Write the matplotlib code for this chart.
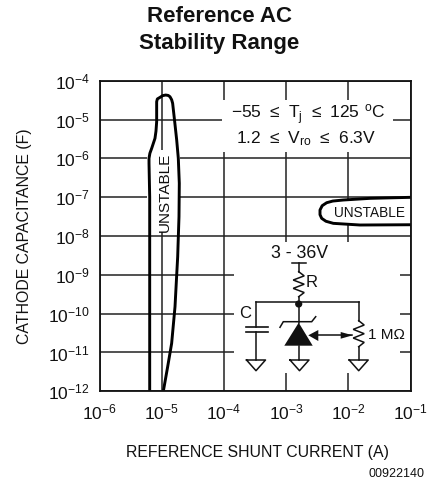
import numpy as np
import matplotlib
matplotlib.use("Agg")
import matplotlib.pyplot as plt
from matplotlib.patches import Rectangle, Polygon, Circle

# values as log10 of amps / farads
left_x = [-5.193, -5.193, -5.204, -5.204, -5.190, -5.161, -5.108, -5.092, -5.081, -5.081, -5.070, -5.027, -4.985,
          -4.936, -4.895, -4.867, -4.840, -4.824, -4.791, -4.759, -4.733, -4.717, -4.722, -4.738, -4.743,
          -4.759, -4.786, -4.840, -4.904, -4.974]
left_y = [-12.0, -7.0, -6.128, -6.0, -5.87, -5.742, -5.485, -5.3, -5.057, -4.542, -4.47, -4.429, -4.385,
          -4.369, -4.38, -4.413, -4.49, -4.583, -5.057, -5.528, -6.0, -6.643, -7.503, -8.276, -8.534,
          -9.005, -9.821, -10.764, -11.366, -12.0]
right_x = [-1.0, -1.651, -2.08, -2.25, -2.348, -2.42, -2.455, -2.455, -2.428, -2.36, -2.241, -1.812, -1.0]
right_y = [-7.004, -7.03, -7.073, -7.10, -7.143, -7.22, -7.331, -7.45, -7.545, -7.62, -7.674, -7.717, -7.71]

x_exp = [-6, -5, -4, -3, -2, -1]
y_exp = [-12, -11, -10, -9, -8, -7, -6, -5, -4]
x_labels = ["$\\mathregular{10^{%d}}$" % e for e in x_exp]
y_labels = ["$\\mathregular{10^{%d}}$" % e for e in y_exp]

plain = "Liberation Sans"
W, H = 436, 486

fig = plt.figure(figsize=(W / 100, H / 100), dpi=100)
ax = fig.add_axes([99.5 / W, 1 - 391.3 / H, 311 / W, 310.6 / H])
ax.set_xscale("log")
ax.set_yscale("log")
ax.set_xlim(1e-6, 1e-1)
ax.set_ylim(1e-12, 1e-4)
ax.minorticks_off()
ax.set_xticks([10.0 ** e for e in x_exp], x_labels, fontsize=12.5, family=plain)
ax.set_yticks([10.0 ** e for e in y_exp], y_labels, fontsize=12.5, family=plain)
ax.tick_params(length=0, pad=8, colors="#111111")
ax.tick_params(axis="y", pad=7)
ax.grid(True, color="#222222", lw=1.1)
ax.set_axisbelow(True)
for s in ax.spines.values():
    s.set_linewidth(1.3)
    s.set_color("#111111")
    s.set_zorder(6)


# gaps cut in the grid, (xmin, xmax, ymin, ymax) as exponents
def gap(x0, x1, y0, y1):
    ax.add_patch(Rectangle((10.0 ** x0, 10.0 ** y0), 10.0 ** x1 - 10.0 ** x0, 10.0 ** y1 - 10.0 ** y0,
                           fc="white", ec="none", zorder=2))


gap(-4.03, -1.28, -5.84, -4.5)
gap(-5.236, -4.706, -7.9, -5.786)
gap(-3.833, -1.169, -11.521, -8.147)

ax.fill(10.0 ** np.array(right_x), 10.0 ** np.array(right_y), color="white", zorder=3)
ax.plot(10.0 ** np.array(left_x), 10.0 ** np.array(left_y), color="black", lw=2.1, zorder=4,
        solid_capstyle="butt", solid_joinstyle="round")
ax.plot(10.0 ** np.array(right_x), 10.0 ** np.array(right_y), color="black", lw=2.1, zorder=4,
        solid_joinstyle="round")

# overlay in pixels for the text and the little circuit
ov = fig.add_axes([0, 0, 1, 1], facecolor="none")
ov.set_xlim(0, W)
ov.set_ylim(H, 0)
ov.axis("off")


def txt(x, y, s, size=11.4, **kw):
    kw.setdefault("family", plain)
    ov.text(x, y, s, fontsize=size, ha=kw.pop("ha", "center"), va=kw.pop("va", "center"), color="#111111", **kw)


def line(xs, ys, lw=1.1):
    ov.plot(xs, ys, color="#111111", lw=lw, solid_joinstyle="miter")


def ground(x):
    ov.plot([x - 9.5, x + 9.5, x, x - 9.5], [360, 360, 370.7, 360], color="#111111", lw=1.1)


def zigzag(x, y0, y1, w):
    n = 6
    ys = [y0 + (y1 - y0) * i / n for i in range(n + 1)]
    xs = [x] + [x + (w if i % 2 else -w) for i in range(1, n)] + [x]
    line(xs, ys)


txt(219, 16, "Reference AC", size=16, weight="bold")
txt(219, 43, "Stability Range", size=16, weight="bold")
txt(24, 236, "CATHODE CAPACITANCE (F)", rotation=90)
txt(257, 452, "REFERENCE SHUNT CURRENT (A)")
txt(424, 474, "00922140", size=9, ha="right")
txt(308, 115, "$\\mathregular{-55\\ \\leq\\ T_j\\ \\leq\\ 125\\ ^oC}$", size=12.5)
txt(306, 139, "$\\mathregular{1.2\\ \\leq\\ V_{ro}\\ \\leq\\ 6.3V}$", size=12.5)
txt(164.5, 192.5, "UNSTABLE", rotation=90, size=11)
txt(369.5, 213, "UNSTABLE", size=9.8)

txt(300, 253, "3 - 36V", size=12.8)
txt(311.7, 282.7, "R", size=12)
txt(245, 313, "C", size=12)
txt(367.7, 335, "1 M\u03a9", size=11, ha="left")

line([291.7, 305.7], [263.3, 263.3])
line([298.7, 298.7], [263.3, 271.7])
zigzag(298.7, 271.7, 296.7, 5.5)
line([298.7, 298.7], [296.7, 322.7])
ov.add_patch(Circle((298.7, 304), 3.6, fc="#111111", ec="none"))

line([255.7, 358.7], [301.7, 301.7])
line([255.7, 255.7], [301.7, 327])
line([246, 267.7], [327, 327], lw=1.2)
line([246, 267.7], [331.7, 331.7], lw=1.2)
line([255.7, 255.7], [331.7, 360])
ground(256)

ov.add_patch(Polygon([(298.7, 322.7), (284.3, 345.7), (312.7, 345.7)], fc="#111111", ec="none"))
line([280, 283.3, 311.7, 315.7], [327.3, 321.7, 321.7, 316.7])
line([299, 299], [345.7, 360])
ground(299.5)

ov.add_patch(Polygon([(308.3, 335.3), (318.3, 330), (318.3, 341)], fc="#111111", ec="none"))
line([316, 352], [335.3, 335.3])
ov.add_patch(Polygon([(352.7, 335.3), (340.7, 332), (340.7, 338.7)], fc="#111111", ec="none"))

line([358.7, 358.7], [301.7, 320.7])
zigzag(358.7, 320.7, 346.7, 5.5)
line([358.7, 358.7], [346.7, 360])
ground(358.7)

fig.savefig("out.png", dpi=100)
